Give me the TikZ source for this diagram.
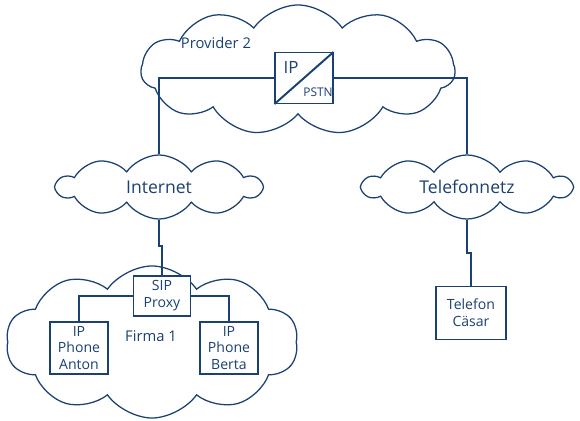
\documentclass[tikz,border=0pt]{standalone}
\usepackage{fontspec}
\setmainfont{Open Sans}
\usetikzlibrary{shapes.symbols}
\definecolor{netblue}{HTML}{1B4172}
\tikzset{
  netcloud/.style={cloud,cloud puffs=10,cloud puff arc=110,cloud ignores aspect,draw=netblue,fill=white,line width=0.9pt,text=netblue,inner sep=0pt},
  devbox/.style={draw=netblue,fill=white,line width=0.8pt,text=netblue,align=center,inner sep=0pt,font=\fontsize{10}{12}\selectfont},
  link/.style={draw=netblue,line width=1.4pt},
  lbl/.style={text=netblue,inner sep=0pt},
}

\begin{document}
\begin{tikzpicture}[x=0.025cm,y=-0.025cm]
		\useasboundingbox (0,0) rectangle (580,421);

		% clouds
		\node (prov) at (298,70) [netcloud,cloud puffs=11,minimum width=7.85cm,minimum height=3.25cm] {};
		\node (inet) at (159,187) [netcloud,minimum width=5.1cm,minimum height=1.6cm,font=\fontsize{12.5}{15}\selectfont] {Internet};
		\node (tnet) at (467,187) [netcloud,minimum width=5.2cm,minimum height=1.6cm,font=\fontsize{12.5}{15}\selectfont] {Telefonnetz};
		\node (firma) at (152,342) [netcloud,minimum width=7.3cm,minimum height=3.8cm] {};
		\node (provlbl) at (216,43) [lbl,font=\fontsize{10.5}{12}\selectfont] {Provider 2};
		\node (firmalbl) at (151,336) [lbl,font=\fontsize{10.5}{12}\selectfont] {Firma 1};

		% gateway
		\node (gw) at (304,78) [devbox,minimum width=1.45cm,minimum height=1.275cm] {};
		\draw [link] (gw.south west) -- (gw.north east);
		\node (gwip) at (291,67) [lbl,font=\fontsize{12}{14}\selectfont] {IP};
		\node (gwpstn) at (318,92) [lbl,font=\fontsize{8.5}{10}\selectfont] {PSTN};

		% devices
		\node (sip) at (162,296) [devbox,minimum width=1.425cm,minimum height=1cm] {SIP\\Proxy};
		\node (anton) at (79,348) [devbox,minimum width=1.45cm,minimum height=1.3cm] {IP\\Phone\\Anton};
		\node (berta) at (229,348) [devbox,minimum width=1.45cm,minimum height=1.3cm] {IP\\Phone\\Berta};
		\node (caesar) at (471,313) [devbox,minimum width=1.75cm,minimum height=1.325cm] {Telefon\\Cäsar};

		% links
		\draw [link] (gw.west) -| (inet.north);
		\draw [link] (gw.east) -| (tnet.north);
		\draw [link] (inet.south) |- ++(3,26) -- (sip.north);
		\draw [link] (tnet.south) |- ++(4,33) -- (caesar.north);
		\draw [link] (sip.west) -| (anton.north);
		\draw [link] (sip.east) -| (berta.north);
	\end{tikzpicture}
\end{document}
